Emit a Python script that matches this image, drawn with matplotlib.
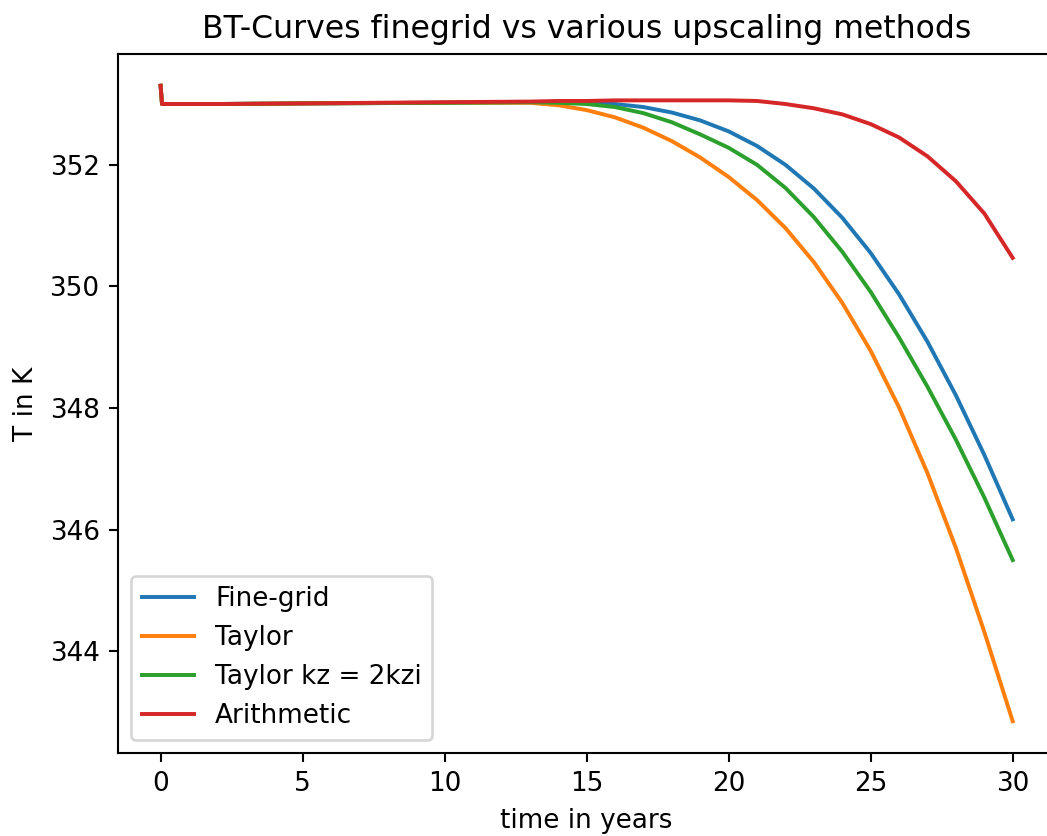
import matplotlib
matplotlib.use("Agg")
import matplotlib.pyplot as plt

# Data
t = [0, 0.05, 2, 5, 10, 13, 14, 15, 16, 17, 18, 19, 20, 21, 22, 23, 24, 25, 26, 27, 28, 29, 30]

fine_grid = [353.3, 353.0, 353.0, 353.01, 353.02, 353.03, 353.03, 353.02, 353.0, 352.95, 352.86,
             352.73, 352.55, 352.31, 352.0, 351.61, 351.13, 350.55, 349.87, 349.09, 348.21, 347.23, 346.17]
taylor = [353.3, 353.0, 353.0, 353.01, 353.02, 353.02, 352.98, 352.9, 352.78, 352.61, 352.39,
          352.12, 351.8, 351.42, 350.96, 350.4, 349.73, 348.94, 348.01, 346.93, 345.7, 344.32, 342.85]
taylor_2kzi = [353.3, 353.0, 353.0, 353.01, 353.02, 353.03, 353.02, 353.0, 352.95, 352.85, 352.7,
               352.5, 352.28, 352.0, 351.62, 351.14, 350.57, 349.91, 349.16, 348.35, 347.48, 346.53, 345.5]
arithmetic = [353.3, 353.0, 353.0, 353.01, 353.03, 353.04, 353.05, 353.05, 353.06, 353.06, 353.06,
              353.06, 353.06, 353.05, 353.0, 352.93, 352.83, 352.67, 352.45, 352.14, 351.73, 351.2, 350.47]

labels = ["Fine-grid", "Taylor", "Taylor kz = 2kzi", "Arithmetic"]

# Plot
DPI = 189
fig = plt.figure(figsize=(1047 / DPI, 836 / DPI), dpi=DPI)
ax = fig.add_axes([118 / 1047, 83 / 836, 937.3 / 1047, 699 / 836])

for series, label in zip([fine_grid, taylor, taylor_2kzi, arithmetic], labels):
    ax.plot(t, series, label=label)

ax.set_xlabel("time in years")
ax.set_ylabel("T in K")
ax.set_title("BT-Curves finegrid vs various upscaling methods")
ax.legend(loc="lower left")

fig.savefig("out.png", dpi=DPI)
